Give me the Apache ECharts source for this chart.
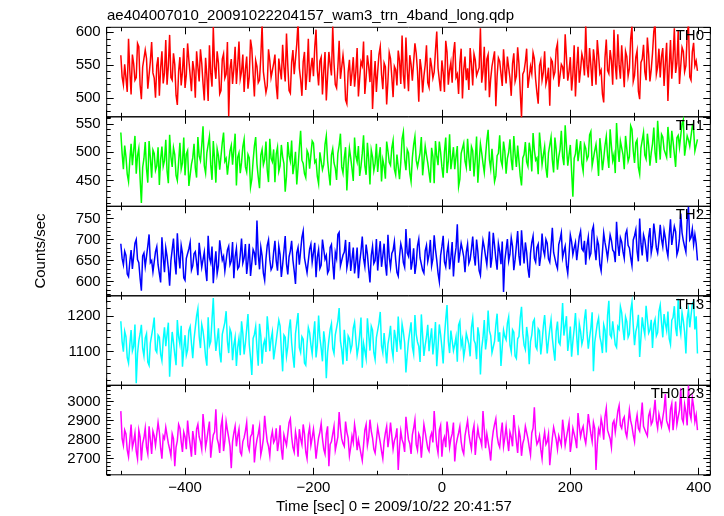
<!DOCTYPE html>
<html><head><meta charset="utf-8">
<script src="https://cdn.jsdelivr.net/npm/echarts@6/dist/echarts.min.js"></script>
<style>html,body{margin:0;padding:0;background:#fff}#c{width:724px;height:516px}</style>
</head><body><div id="c"></div>
<script>
// time bins (sec) : first bin and bin width
const tStart = -500, binSize = 2;

const th0 = [
565,532,520,551,548,509,590,541,505,566,552,527,531,583,578,520,498,547,544,573,560,514,512,556,585,538,530,500,549,562,
503,545,571,522,538,588,520,549,596,531,527,568,551,504,489,540,562,519,540,576,515,535,583,557,534,510,556,542,500,571,
547,525,574,553,522,496,561,534,495,580,538,517,608,548,529,571,553,506,511,559,567,530,536,585,472,544,559,521,544,578,
521,550,586,529,540,566,509,543,563,514,532,589,575,536,502,557,548,523,527,563,612,540,539,508,518,574,557,531,530,552,
566,519,498,560,543,528,581,547,525,598,550,511,507,554,573,536,537,582,616,545,528,503,555,570,512,539,590,524,546,561,
533,577,604,542,519,556,562,505,541,570,496,533,570,551,534,609,553,520,515,547,587,529,529,565,545,497,491,539,558,518,
538,562,517,540,576,502,530,555,549,586,506,531,565,548,524,573,483,527,556,509,540,566,578,536,513,553,547,490,526,569,
560,532,501,548,543,519,572,557,521,595,535,514,592,544,510,565,551,526,528,583,568,541,494,559,544,508,533,550,580,523,
516,561,548,530,539,572,601,545,527,510,557,539,509,587,570,520,542,554,523,568,585,531,536,506,553,575,499,543,563,527,
545,512,576,552,519,567,558,534,532,546,606,523,540,578,511,559,566,501,529,548,550,571,487,533,561,556,537,518,574,544,
522,563,546,530,503,552,568,525,533,577,552,509,470,536,541,555,575,515,518,548,537,569,560,528,508,491,549,557,527,539,
571,521,530,546,488,559,555,532,539,574,583,517,514,551,547,529,597,562,526,540,562,511,535,580,502,545,578,523,543,567,
558,534,611,549,531,576,549,518,574,556,520,588,565,537,542,506,493,561,589,542,537,573,557,520,604,550,528,597,551,529,
580,548,516,571,563,533,545,590,609,525,534,562,572,510,498,554,559,581,540,527,592,566,525,543,568,601,614,536,547,575,
531,563,576,518,553,584,495,547,588,529,560,606,538,553,602,521,519,577,571,540,549,596,612,532,527,570,584,549,556,541
];
const th1 = [
535,498,470,512,492,461,448,486,515,477,480,529,462,494,507,453,410,473,489,518,471,446,520,490,455,504,498,468,476,509,
442,487,510,475,485,522,467,445,531,492,474,508,496,459,450,483,517,470,481,526,459,497,503,440,437,479,490,515,472,455,
527,493,485,512,546,476,463,499,501,528,478,451,520,488,446,506,494,469,470,517,535,484,489,460,458,502,512,478,476,533,
441,491,499,463,482,510,523,474,465,496,490,438,452,485,511,527,479,456,436,495,505,478,487,519,468,447,524,489,483,505,
447,497,509,466,476,513,492,480,430,458,518,494,484,521,461,477,501,443,473,508,538,486,480,462,455,503,497,471,469,520,
516,482,486,457,444,500,503,469,478,514,529,485,462,441,495,506,481,472,451,498,512,533,474,463,490,509,432,478,507,490,
471,449,526,493,483,511,458,475,498,530,476,460,517,488,443,504,492,467,480,515,465,491,509,448,487,476,453,519,502,482,
477,508,521,470,460,496,494,452,482,524,536,487,468,505,499,463,448,490,513,528,486,474,472,499,527,459,457,511,495,481,
481,446,508,493,445,520,493,477,519,500,474,455,501,526,463,485,532,470,488,509,470,492,511,439,452,498,497,516,484,473,
524,491,467,510,503,457,489,528,446,482,515,499,480,464,494,521,540,487,471,506,506,448,458,494,498,530,485,476,519,502,
462,489,500,523,487,468,529,497,474,512,509,458,441,490,496,518,483,475,517,501,466,534,504,486,490,461,535,508,478,495,
510,472,455,499,499,527,486,464,526,505,469,492,505,538,492,477,548,511,476,495,513,466,421,489,497,523,484,503,520,480,
466,514,507,487,493,531,537,476,479,503,514,490,458,525,502,468,488,512,528,494,472,541,511,485,496,463,552,509,483,520,
518,496,470,529,506,484,492,547,541,503,481,517,522,473,461,508,509,535,495,488,533,512,476,499,515,544,499,481,556,520,
487,532,527,505,503,491,545,518,490,538,519,497,474,526,530,509,506,551,558,494,495,529,522,511,510,547,540,502,500,523
];
const th2 = [
690,655,640,672,662,618,612,647,675,630,628,691,700,652,645,608,578,661,668,636,633,684,712,645,650,623,620,671,683,640,
641,598,705,658,622,680,660,631,590,649,676,702,648,617,715,663,631,686,667,609,603,655,654,678,693,627,637,666,671,645,
615,692,688,634,652,670,627,601,709,657,645,683,596,640,672,619,638,698,698,651,660,625,621,675,684,640,649,694,608,659,
679,630,635,663,702,644,656,689,618,648,690,613,644,676,668,639,745,665,629,682,661,620,603,653,686,699,652,628,635,670,
697,649,626,684,664,611,640,673,708,642,617,659,673,697,651,625,594,668,681,640,643,705,720,656,657,621,624,677,689,646,
648,692,610,658,676,631,639,700,699,653,662,620,627,681,688,644,605,669,655,712,717,637,641,663,670,699,632,650,694,625,
653,681,619,646,681,608,646,672,707,655,636,688,665,629,598,662,684,643,650,701,626,667,696,635,661,690,640,614,711,658,
634,667,674,695,652,622,613,659,690,676,645,634,725,668,660,703,628,647,679,618,642,685,701,656,656,627,620,673,686,648,
664,699,637,654,710,676,651,620,600,662,683,709,647,635,669,688,629,657,694,612,658,680,736,645,641,691,676,659,622,670,
689,643,652,677,707,661,638,700,671,626,615,664,698,682,660,640,680,719,633,657,716,686,654,628,690,672,641,695,575,650,
676,701,649,665,704,684,627,652,685,720,661,638,722,679,643,693,670,631,609,667,693,708,655,646,681,689,637,660,714,675,
662,700,691,654,646,683,728,669,670,641,631,688,700,716,657,672,684,639,619,663,711,695,664,680,693,651,648,707,720,678,
673,697,640,686,706,658,667,721,732,679,651,700,687,640,625,669,715,693,676,655,658,711,698,675,670,646,742,689,661,704,
694,671,655,713,722,686,680,657,638,699,709,723,672,648,750,690,662,711,699,676,647,705,727,668,686,738,712,680,668,697,
735,701,683,722,704,676,660,709,748,687,690,731,719,664,675,702,762,716,697,683,670,744,778,699,705,725,688,712,690,650
];
const th3 = [
1185,1128,1100,1157,1142,1083,1068,1119,1160,1102,1115,1176,1012,1094,1130,1150,1175,1109,1088,1138,1150,1071,1062,1124,1122,1168,1195,1105,1098,1146,
1140,1093,1075,1132,1168,1115,1112,1181,1030,1097,1155,1126,1093,1062,1188,1141,1120,1172,1058,1107,1146,1090,1105,1159,1170,1123,1082,1135,1134,1200,
1220,1143,1110,1176,1158,1128,1085,1061,1196,1117,1128,1189,1250,1154,1102,1132,1165,1095,1070,1148,1145,1182,1213,1129,1096,1163,1152,1076,1118,1140,
1060,1112,1138,1090,1185,1151,1092,1124,1163,1205,1120,1083,1035,1137,1148,1170,1108,1061,1178,1144,1066,1119,1132,1099,1199,1158,1101,1135,1155,1078,
1080,1131,1126,1188,1172,1104,1045,1146,1140,1087,1113,1164,1190,1125,1087,1055,1150,1179,1208,1111,1098,1142,1135,1068,1062,1121,1167,1153,1119,1094,
1146,1185,1084,1117,1201,1139,1110,1073,1157,1126,1026,1098,1133,1162,1178,1109,1095,1147,1143,1186,1222,1130,1105,1064,1161,1121,1074,1144,1136,1103,
1118,1166,1182,1135,1090,1112,1147,1195,1055,1123,1128,1081,1193,1149,1103,1171,1160,1097,1078,1139,1139,1180,1211,1116,1097,1152,1152,1067,1121,1143,
1172,1108,1085,1161,1137,1099,1198,1134,1106,1177,1155,1125,1042,1090,1130,1156,1182,1114,1094,1202,1149,1127,1115,1071,1204,1145,1088,1118,1141,1175,
1101,1136,1165,1092,1127,1183,1059,1114,1176,1148,1112,1067,1143,1190,1230,1129,1096,1159,1158,1103,1120,1141,1072,1174,1185,1116,1134,1085,1109,1151,
1150,1121,1087,1167,1192,1132,1123,1079,1168,1145,1036,1110,1139,1188,1106,1137,1215,1158,1145,1097,1092,1129,1174,1206,1128,1154,1060,1113,1160,1142,
1133,1179,1197,1119,1100,1161,1154,1088,1081,1136,1142,1194,1225,1151,1118,1106,1169,1140,1065,1128,1147,1183,1190,1115,1107,1164,1158,1092,1126,1171,
1202,1148,1095,1131,1162,1189,1138,1104,1075,1157,1184,1126,1120,1170,1236,1145,1144,1199,1102,1133,1170,1086,1129,1163,1208,1142,1090,1177,1156,1121,
1137,1190,1218,1153,1108,1139,1166,1210,1045,1125,1152,1178,1194,1141,1125,1096,1175,1160,1098,1201,1242,1147,1140,1185,1180,1119,1112,1170,1163,1226,
1209,1164,1132,1197,1184,1140,1150,1215,1238,1173,1118,1156,1171,1203,1085,1138,1196,1167,1147,1228,1225,1152,1161,1189,1110,1176,1190,1144,1153,1212,
1230,1181,1140,1205,1178,1159,1212,1136,1120,1188,1195,1227,1166,1143,1248,1174,1150,1209,1186,1155,1095,1191,1218,1168,1172,1234,1240,1162,1199,1095
];
const th0123 = [
2950,2805,2770,2850,2830,2745,2710,2795,2880,2760,2790,2835,2740,2700,2850,2815,2690,2780,2810,2860,2760,2725,2870,2800,2725,2845,2820,2770,2780,2890,
2840,2755,2700,2820,2805,2865,2875,2780,2750,2715,2830,2805,2660,2760,2795,2880,2860,2790,2735,2840,2815,2750,2900,2825,2770,2710,2845,2800,2720,2855,
2880,2815,2790,2750,2935,2860,2760,2800,2850,2895,2705,2775,2825,2840,2960,2805,2780,2730,2870,2910,2740,2795,2895,2850,2810,2765,2650,2790,2835,2870,
2765,2820,2855,2735,2720,2790,2810,2845,2890,2770,2745,2815,2830,2880,2680,2755,2800,2830,2870,2720,2755,2805,2925,2850,2790,2765,2715,2810,2845,2785,
2800,2860,2740,2790,2875,2750,2695,2825,2820,2770,2780,2890,2910,2815,2760,2735,2840,2800,2710,2855,2805,2775,2880,2830,2735,2700,2825,2865,2770,2810,
2855,2790,2700,2760,2810,2840,2885,2805,2750,2725,2830,2870,2660,2775,2790,2830,2870,2745,2735,2815,2945,2860,2805,2780,2765,2895,2840,2810,2715,2760,
2820,2785,2880,2835,2745,2800,2795,2725,2690,2770,2850,2880,2770,2810,2905,2845,2810,2750,2730,2795,2865,2825,2785,2740,2700,2790,2835,2870,2760,2815,
2890,2820,2750,2795,2815,2860,2640,2760,2845,2800,2780,2735,2920,2855,2800,2780,2725,2825,2860,2905,2775,2745,2830,2810,2705,2790,2880,2840,2795,2755,
2740,2815,2835,2785,2950,2850,2770,2730,2850,2875,2710,2795,2815,2760,2895,2840,2760,2805,2830,2890,2685,2770,2805,2835,2870,2790,2745,2725,2820,2860,
2900,2830,2785,2750,2840,2875,2720,2800,2860,2815,2800,2770,2950,2855,2755,2830,2825,2745,2690,2790,2845,2880,2910,2820,2780,2760,2835,2890,2765,2810,
2870,2800,2740,2840,2815,2765,2930,2855,2790,2730,2850,2815,2715,2780,2805,2870,2880,2805,2760,2720,2835,2860,2970,2825,2775,2790,2820,2750,2700,2795,
2840,2775,2790,2830,2665,2740,2810,2865,2875,2800,2750,2820,2830,2770,2905,2845,2770,2810,2850,2890,2735,2785,2860,2830,2800,2755,2940,2870,2815,2850,
2870,2810,2780,2845,2935,2880,2830,2790,2890,2860,2640,2775,2855,2830,2910,2875,2800,2920,2965,2850,2845,2805,2760,2885,2900,2840,2830,2950,2980,2875,
2860,2905,2920,2840,2815,2880,2955,2900,2870,2825,2790,2890,2930,2860,2845,2915,2995,2870,2880,2835,2820,2925,2950,2880,2895,2945,3010,2900,2860,2935,
2930,2870,2880,2960,3040,2900,2905,2855,2960,2990,2850,2915,3000,2880,2920,2955,3070,2910,2890,2985,2945,2875,3085,2940,2910,3020,2975,2895,2930,2850
];

const panelNames = ['TH0', 'TH1', 'TH2', 'TH3', 'TH0123'];
const panelData = [th0, th1, th2, th3, th0123];
const colors = ['#ff0000', '#00ff00', '#0000ff', '#00ffff', '#ff00ff'];
const yMin = [471, 404, 566, 1006, 2615];
const yMax = [607.6, 563, 779, 1256, 3086];
const yMajor = [50, 50, 50, 100, 100];
const yMinor = [10, 10, 10, 20, 20];
const xMin = -522, xMax = 418, xMajor = 200, xMinor = 100;
const titleText = 'ae404007010_20091022204157_wam3_trn_4band_long.qdp';
const xTitle = 'Time [sec] 0 = 2009/10/22 20:41:57';
const yTitle = 'Counts/sec';

const FONT = 'Liberation Sans, Arial, Helvetica, sans-serif';
const gridLeft = 106.7, gridRight = 13.7, gridTop0 = 27.3, panelH = 89.5;

const grids = [], xAxes = [], yAxes = [], series = [], titles = [];
titles.push({text: titleText, left: 107, top: 8, padding: 0,
  textStyle: {fontSize: 15, fontWeight: 'normal', color: '#000', fontFamily: FONT}});

const fmt = v => String(v).replace('-', '\u2212');

for (let i = 0; i < 5; i++) {
  const top = gridTop0 + i * panelH;
  grids.push({left: gridLeft, right: gridRight, top: top, height: panelH,
    show: true, borderColor: '#000', borderWidth: 1, backgroundColor: 'transparent'});
  const xBase = xAxes.length;
  const mkX = (pos, iv, len, labels) => ({
    type: 'value', gridIndex: i, position: pos, min: xMin, max: xMax,
    minInterval: iv, maxInterval: iv, splitNumber: 5,
    axisLine: {show: false, onZero: false},
    axisTick: {show: true, inside: true, length: len, lineStyle: {color: '#000', width: 1}},
    splitLine: {show: false},
    axisLabel: {show: labels, showMinLabel: false, showMaxLabel: false, margin: 6,
      fontSize: 15, color: '#000', fontFamily: FONT, formatter: fmt}
  });
  xAxes.push(mkX('bottom', xMajor, 7, i === 4));
  xAxes.push(mkX('bottom', xMinor, 4, false));
  xAxes.push(mkX('top', xMajor, 7, false));
  xAxes.push(mkX('top', xMinor, 4, false));
  const yBase = yAxes.length;
  const mkY = (pos, iv, len, labels) => ({
    type: 'value', gridIndex: i, position: pos, min: yMin[i], max: yMax[i],
    minInterval: iv, maxInterval: iv, splitNumber: 3,
    axisLine: {show: false, onZero: false},
    axisTick: {show: true, inside: true, length: len, lineStyle: {color: '#000', width: 1}},
    splitLine: {show: false},
    axisLabel: {show: labels, showMinLabel: false, showMaxLabel: false, margin: 6,
      fontSize: 15, color: '#000', fontFamily: FONT, formatter: fmt}
  });
  const yl = mkY('left', yMajor[i], 7, true);
  if (i === 2) {
    yl.name = yTitle; yl.nameLocation = 'middle'; yl.nameGap = 58;
    yl.nameTextStyle = {fontSize: 15, color: '#000', fontFamily: FONT};
  }
  yAxes.push(yl);
  yAxes.push(mkY('left', yMinor[i], 4, false));
  yAxes.push(mkY('right', yMajor[i], 7, false));
  yAxes.push(mkY('right', yMinor[i], 4, false));

  series.push({
    type: 'line', xAxisIndex: xBase, yAxisIndex: yBase,
    data: panelData[i].map((v, k) => [tStart + k * binSize, v]),
    showSymbol: false, symbol: 'none', animation: false, clip: true,
    lineStyle: {color: colors[i], width: 1.5, join: 'miter'}, itemStyle: {color: colors[i]}
  });
  titles.push({text: panelNames[i], right: 20, top: top + 1.5, padding: 0,
    textStyle: {fontSize: 15, fontWeight: 'normal', color: '#000', fontFamily: FONT}});
}

const chart = echarts.init(document.getElementById('c'), null, {renderer: 'canvas'});
chart.setOption({
  animation: false,
  backgroundColor: '#fff',
  title: titles,
  grid: grids,
  xAxis: xAxes,
  yAxis: yAxes,
  series: series,
  graphic: [{type: 'text', left: 276, top: 499,
    style: {text: xTitle, fill: '#000', font: '15px ' + FONT}}]
});
</script>
</body></html>
